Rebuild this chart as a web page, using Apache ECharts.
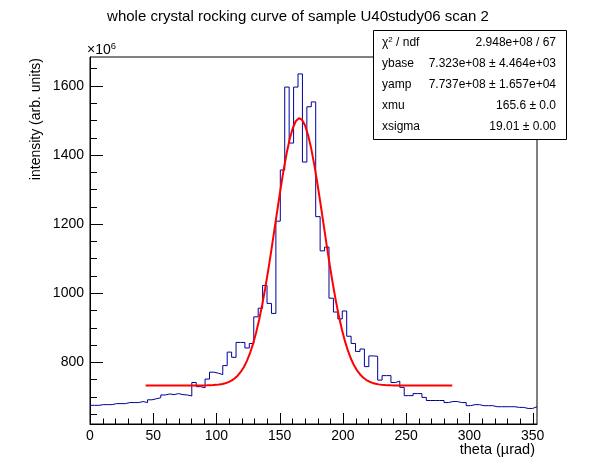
<!DOCTYPE html>
<html><head><meta charset="utf-8">
<script src="https://cdn.jsdelivr.net/npm/echarts@6/dist/echarts.min.js"></script>
<style>html,body{margin:0;padding:0;background:#fff}#c{width:596px;height:472px}</style>
</head><body><div id="c"></div>
<script>
// ---- data (intensity in units of 1e6) ----
const binWidth = 3.5;
const xStart = 0;
const xEnd = 353.5;
const counts = [
  675, 675, 677, 677, 677, 680, 680, 680, 683, 683,
  683, 686, 683, 691, 694, 697, 705, 708, 706, 709,
  706, 705, 702, 741, 729, 726, 751, 771, 768, 764,
  790, 829, 814, 857, 857, 841, 854, 931, 956, 1022,
  970, 941, 1208, 1356, 1596, 1434, 1596, 1634, 1379, 1539,
  1553, 1221, 1122, 1133, 985, 945, 925, 948, 875, 854,
  831, 838, 787, 818, 817, 748, 761, 761, 741, 745,
  727, 703, 703, 709, 709, 698, 689, 689, 689, 689,
  683, 686, 686, 683, 683, 674, 677, 677, 674, 674,
  674, 671, 671, 671, 671, 671, 669, 669, 666, 666,
  671
];
const fitNames = ['ybase', 'yamp', 'xmu', 'xsigma'];
const fitValues = [732.3, 773.7, 165.6, 19.01];
const fitRange = [44, 286.5];
const fitNpx = 100;
const statLabels = ['χ2 / ndf', 'ybase', 'yamp', 'xmu', 'xsigma'];
const statValues = ['2.948e+08 / 67', '7.323e+08 ± 4.464e+03', '7.737e+08 ± 1.657e+04', '165.6 ± 0.0', '19.01 ± 0.00'];
const xMajorTicks = [0, 50, 100, 150, 200, 250, 300, 350];
const xMinorTicks = [10,20,30,40,60,70,80,90,110,120,130,140,160,170,180,190,210,220,230,240,260,270,280,290,310,320,330,340];
const yMajorTicks = [800, 1000, 1200, 1400, 1600];
const yMinorTicks = [650,700,750,850,900,950,1050,1100,1150,1250,1300,1350,1450,1500,1550,1650];
const yRange = [621, 1683];

// ---- build series ----
const histData = counts.map((v, i) => [xStart + i * binWidth, v]);
histData.push([xEnd, counts[counts.length - 1]]);

const [ybase, yamp, xmu, xsigma] = fitValues;
const fitData = [];
for (let k = 0; k <= fitNpx; k++) {
  const x = fitRange[0] + (fitRange[1] - fitRange[0]) * k / fitNpx;
  const z = (x - xmu) / xsigma;
  fitData.push([x, ybase + yamp * Math.exp(-0.5 * z * z)]);
}

const FONT = '"Liberation Sans", Arial, Helvetica, sans-serif';
const chart = echarts.init(document.getElementById('c'), null, {renderer: 'canvas'});

// tick marks drawn through the axes' own scales (custom series)
const TICK_COLOR = '#000000';
const TICK_WIDTH = 1;
function xTickSeries(values, len) {
  return {type: 'custom', coordinateSystem: 'cartesian2d', xAxisIndex: 0, yAxisIndex: 0,
    data: values.map(v => [v, yRange[0]]), silent: true, clip: false, z: 6,
    renderItem: (params, api) => {
      const p = api.coord([api.value(0), api.value(1)]);
      const x = Math.round(p[0]) + 0.5;
      return {type: 'line', z2: 10,
              shape: {x1: x, y1: p[1], x2: x, y2: p[1] - len},
              style: {stroke: TICK_COLOR, lineWidth: TICK_WIDTH, fill: null}};
    }};
}
function yTickSeries(values, len) {
  return {type: 'custom', coordinateSystem: 'cartesian2d', xAxisIndex: 0, yAxisIndex: 0,
    data: values.map(v => [xStart, v]), silent: true, clip: false, z: 6,
    renderItem: (params, api) => {
      const p = api.coord([api.value(0), api.value(1)]);
      const y = Math.round(p[1]) + 0.5;
      return {type: 'line', z2: 10,
              shape: {x1: p[0], y1: y, x2: p[0] + len, y2: y},
              style: {stroke: TICK_COLOR, lineWidth: TICK_WIDTH, fill: null}};
    }};
}

const statGraphics = [{
  type: 'rect', z: 100,
  shape: {x: 373.5, y: 30.5, width: 193, height: 109},
  style: {fill: '#fff', stroke: '#000', lineWidth: 1}
}];
statLabels.forEach((lab, i) => {
  const y = 43 + i * 20.8;
  if (i === 0) {
    statGraphics.push({type: 'text', z: 101, x: 382, y: y, style: {
      text: '{a|χ}{s|2}{a| / ndf}',
      rich: {a: {fontSize: 12, fontFamily: FONT, fill: '#000'}, s: {fontSize: 8, fontFamily: FONT, fill: '#000', padding: [0,0,6,0]}},
      verticalAlign: 'middle', align: 'left'}});
  } else {
    statGraphics.push({type: 'text', z: 101, x: 382, y: y, style: {
      text: lab, fontSize: 12, fontFamily: FONT, fill: '#000', verticalAlign: 'middle', align: 'left'}});
  }
  statGraphics.push({type: 'text', z: 101, x: 556, y: y, style: {
    text: statValues[i], fontSize: 12, fontFamily: FONT, fill: '#000', verticalAlign: 'middle', align: 'right'}});
});

const plain = v => String(v);
const option = {
  animation: false,
  backgroundColor: '#fff',
  grid: {left: 90, right: 59, top: 57, bottom: 48, show: true, borderColor: '#000', borderWidth: 1,
         backgroundColor: 'transparent', containLabel: false, outerBoundsMode: 'none'},
  xAxis: {type: 'value', min: xStart, max: xEnd, position: 'bottom',
    splitLine: {show: false},
    axisLine: {show: true, onZero: false, lineStyle: {color: '#000', width: 1}},
    axisTick: {show: false},
    minorTick: {show: false},
    axisLabel: {show: true, customValues: xMajorTicks, formatter: plain, color: '#000', fontSize: 14, fontFamily: FONT, margin: 5}},
  yAxis: {type: 'value', min: yRange[0], max: yRange[1], position: 'left',
    splitLine: {show: false},
    axisLine: {show: true, onZero: false, lineStyle: {color: '#000', width: 1}},
    axisTick: {show: false},
    minorTick: {show: false},
    axisLabel: {show: true, customValues: yMajorTicks, formatter: plain, color: '#000', fontSize: 14, fontFamily: FONT, margin: 6}},
  series: [
    {type: 'line', name: 'hist', data: histData, step: 'end',
     showSymbol: false, symbol: 'none', lineStyle: {color: '#000099', width: 1}, z: 2, silent: true},
    {type: 'line', name: 'fit', data: fitData,
     showSymbol: false, symbol: 'none', lineStyle: {color: '#ff0000', width: 2}, z: 3, silent: true},
    xTickSeries(xMajorTicks, 11),
    xTickSeries(xMinorTicks, 5.5),
    yTickSeries(yMajorTicks, 13),
    yTickSeries(yMinorTicks, 7)
  ],
  graphic: [
    {type: 'text', x: 298, y: 17, style: {text: 'whole crystal rocking curve of sample U40study06 scan 2',
      fontSize: 15, fontFamily: FONT, fill: '#000', align: 'center', verticalAlign: 'middle'}},
    {type: 'text', x: 87, y: 50, style: {text: '{a|×10}{s|6}',
      rich: {a: {fontSize: 14, fontFamily: FONT, fill: '#000'}, s: {fontSize: 9.5, fontFamily: FONT, fill: '#000', padding: [0,0,8,0]}},
      align: 'left', verticalAlign: 'middle'}},
    {type: 'text', x: 36, y: 58, rotation: Math.PI / 2, style: {text: 'intensity (arb. units)',
      fontSize: 14, fontFamily: FONT, fill: '#000', align: 'right', verticalAlign: 'middle'}},
    {type: 'text', x: 535, y: 450, style: {text: 'theta (µrad)',
      fontSize: 14.5, fontFamily: FONT, fill: '#000', align: 'right', verticalAlign: 'middle'}}
  ].concat(statGraphics)
};
chart.setOption(option);
</script></body></html>
